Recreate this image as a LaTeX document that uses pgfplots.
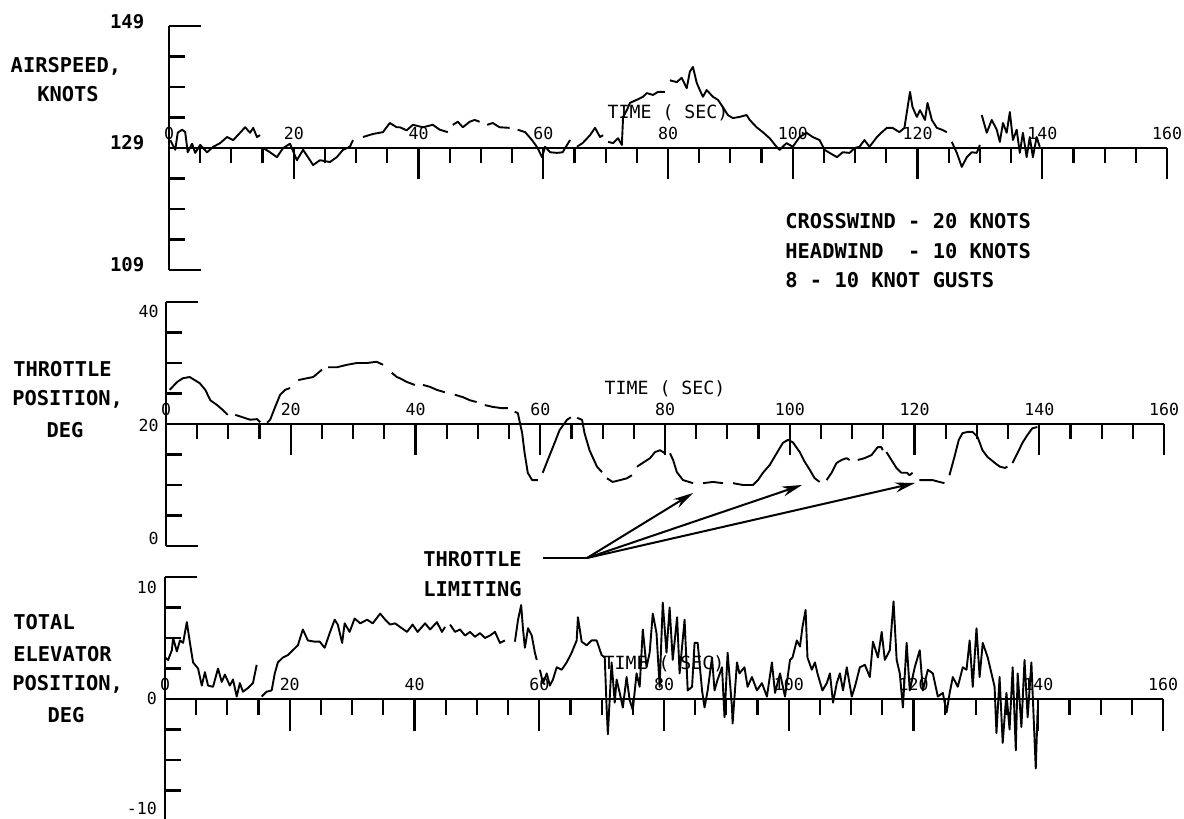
\documentclass[border=0pt]{standalone}
\usepackage{pgfplots}
\pgfplotsset{compat=1.18}
\usepackage{pgfplotstable}
\usepackage{fontspec}
\setmainfont{DejaVu Sans Mono}
\usetikzlibrary{arrows.meta}

\newcommand{\lblfont}{\fontsize{10.2}{12}\selectfont\bfseries}
\newcommand{\tickfont}{\fontsize{8.3}{10}\selectfont}
\newcommand{\timefont}{\fontsize{9.1}{11}\selectfont}

% Airspeed, knots
\pgfplotstableread{
t v
0.2 130.3
1.0 128.7
1.4 131.5
2.1 132.0
2.6 131.6
3.0 128.3
3.7 129.7
4.2 128.2
5.0 129.5
6.1 128.3
7.1 129.2
8.2 129.8
9.3 130.8
10.3 130.3
11.4 131.5
12.2 132.4
13.0 131.5
13.5 132.3
14.1 130.8
14.6 131.1
14.8 nan
15.1 129.0
16.2 128.3
17.3 127.5
18.3 129.0
19.4 129.7
20.5 127.0
21.5 128.7
22.6 127.0
23.1 126.2
24.2 127.0
25.8 126.7
26.9 127.5
27.9 128.7
29.0 129.2
29.5 130.3
30.3 nan
31.1 130.8
32.7 131.3
34.3 131.6
35.4 133.1
36.5 132.4
37.0 132.4
38.1 131.9
39.1 132.8
40.7 132.4
42.3 132.8
43.4 132.0
44.7 131.6
45.1 nan
45.5 132.8
46.3 133.3
47.1 132.4
48.2 133.3
49.0 133.6
49.8 133.3
50.4 nan
51.0 132.8
51.9 133.1
53.0 132.4
54.6 132.3
55.2 nan
55.9 132.0
57.1 131.6
58.2 130.3
59.1 129.0
59.8 127.5
60.3 129.2
61.1 128.3
62.2 128.2
63.1 128.3
64.3 130.3
64.8 nan
65.4 129.2
66.3 129.8
67.5 131.1
68.3 132.3
69.1 130.8
69.6 131.1
70.0 nan
70.4 130.0
71.2 129.8
72.0 130.6
72.6 129.5
72.8 134.1
73.4 135.2
73.9 136.4
75.0 136.9
76.0 137.4
76.6 138.0
77.6 137.7
78.4 138.2
79.5 138.2
79.9 nan
80.3 140.1
81.4 139.8
82.2 140.5
83.0 138.8
83.5 141.5
84.0 142.3
84.6 139.7
85.1 138.5
85.6 137.4
86.2 138.5
87.2 137.4
88.0 136.9
88.8 135.7
89.6 134.4
90.4 133.9
91.5 134.1
92.6 134.4
93.1 133.6
94.2 132.4
95.2 131.6
96.3 130.6
97.4 129.2
97.9 128.7
99.0 129.8
100.0 129.2
101.1 130.8
102.2 131.5
103.2 130.8
104.3 130.3
105.1 128.7
105.9 128.2
107.1 127.5
108.0 128.3
109.1 128.2
109.9 129.0
110.7 129.2
111.5 130.3
112.3 129.2
113.5 130.8
114.3 131.6
115.1 132.3
116.0 132.3
117.1 131.6
117.9 132.3
118.8 138.2
119.2 135.7
119.9 134.1
120.4 135.2
121.2 133.6
121.6 136.4
122.3 133.6
123.1 132.3
123.9 132.0
124.7 131.6
125.1 nan
125.5 130.0
126.3 128.2
127.1 125.9
127.9 127.5
128.7 128.3
129.5 128.2
130.0 129.5
130.15 nan
130.3 134.4
131.1 131.5
131.9 133.6
132.7 132.0
133.2 130.0
133.7 133.1
134.3 131.5
134.8 134.9
135.3 130.3
135.9 132.0
136.4 128.2
136.9 131.5
137.5 127.5
138.0 130.8
138.5 127.5
139.1 130.8
139.6 129.2
}\airspeed

% Throttle position, deg
\pgfplotstableread{
t d
0.6 25.6
1.8 26.9
2.7 27.5
3.8 27.7
4.6 27.2
5.4 26.7
6.3 25.6
7.1 23.9
8.2 23.1
9.1 22.3
9.9 21.5
10.5 nan
11.1 21.5
12.3 21.1
13.5 20.7
14.6 20.8
15.1 20.3
15.6 nan
16.2 20.2
16.7 20.7
17.5 22.8
18.3 24.8
19.1 25.6
19.9 25.9
20.5 nan
21.2 27.2
22.6 27.5
23.6 27.7
25.0 28.9
25.5 nan
26.0 29.3
27.4 29.3
29.0 29.7
30.6 30.0
32.2 30.0
33.8 30.2
34.8 29.7
35.5 nan
36.2 28.4
37.0 27.7
37.5 27.5
38.6 26.9
39.9 26.4
40.5 nan
41.2 26.4
42.3 26.1
43.4 25.6
44.7 25.2
45.5 nan
46.3 24.8
47.6 24.4
48.7 23.9
49.8 23.6
50.4 nan
51.1 23.1
52.4 22.8
53.8 22.6
54.8 22.6
55.3 nan
55.9 22.0
56.4 21.8
57.1 18.5
57.5 15.2
58.0 12.0
58.7 10.8
59.6 10.8
60.0 nan
60.4 12.0
61.2 14.1
62.3 16.9
63.1 19.0
64.3 20.7
64.9 21.1
65.4 nan
65.9 21.0
66.7 20.7
67.1 18.5
67.9 15.7
69.1 13.0
69.9 12.1
70.3 nan
70.7 11.1
71.6 10.5
72.8 10.8
73.9 11.1
74.7 11.6
75.1 nan
75.5 13.0
76.4 13.6
77.6 14.4
78.4 15.4
79.2 15.7
80.0 15.2
80.4 nan
80.8 15.2
81.3 14.1
81.9 12.1
82.9 10.8
84.5 10.3
85.3 nan
86.1 10.3
87.7 10.5
89.3 10.3
90.1 nan
90.9 10.3
92.5 10.0
94.1 10.0
94.9 10.8
95.7 12.0
96.8 13.3
97.9 15.2
98.9 16.9
99.7 17.4
100.5 17.0
101.6 15.4
102.4 13.8
103.2 12.5
104.0 11.1
104.8 10.5
105.3 nan
105.9 10.8
106.7 12.0
107.5 13.6
108.3 14.1
109.1 14.4
109.6 14.1
110.2 nan
110.9 14.1
112.0 14.4
113.1 14.9
114.1 16.2
114.7 16.2
114.9 15.7
115.2 nan
115.5 15.4
116.3 14.1
117.1 12.8
117.9 12.0
118.8 12.0
119.2 11.6
119.7 12.0
120.2 nan
120.8 10.8
122.0 10.8
122.9 10.8
124.0 10.5
124.8 10.3
125.2 nan
125.6 11.6
126.4 14.6
127.1 17.4
127.7 18.5
128.5 18.7
129.3 18.7
130.1 17.9
130.9 15.7
131.7 14.6
132.9 13.6
133.7 13.0
134.5 12.8
134.9 13.0
135.3 nan
135.7 13.6
136.5 15.2
137.3 16.9
138.1 18.2
138.9 19.3
139.7 19.5
}\throttle

% Total elevator position, deg
\pgfplotstableread{
t e
0.0 3.4
0.5 3.2
1.1 4.0
1.3 5.0
1.9 3.9
2.4 4.8
2.9 4.6
3.5 6.3
4.0 4.6
4.5 3.0
5.3 2.5
5.9 1.1
6.4 2.2
6.9 1.1
7.7 1.0
8.5 2.5
9.1 1.4
9.6 2.0
10.4 1.1
10.9 1.6
11.5 0.2
12.0 1.3
12.5 0.6
13.3 0.9
14.1 1.3
14.7 2.8
15.1 nan
15.5 0.2
16.3 0.6
17.1 0.7
17.6 2.1
18.1 3.0
18.9 3.4
19.7 3.6
20.5 4.0
21.3 4.4
22.1 5.7
22.9 4.8
24.0 4.7
24.8 4.7
25.6 4.2
26.4 5.4
27.2 6.5
27.7 6.1
28.4 4.6
28.8 6.2
29.6 5.5
30.4 6.6
31.3 6.2
32.4 6.5
33.3 6.2
34.5 7.0
35.3 6.5
36.1 6.1
36.9 6.2
37.7 5.9
38.8 5.5
39.7 6.1
40.5 5.5
41.7 6.2
42.5 5.7
43.6 6.3
44.4 5.5
44.9 5.9
45.3 nan
45.7 6.1
46.5 5.5
47.3 5.7
48.1 5.2
48.9 5.5
49.7 5.1
50.5 5.4
51.3 5.0
52.1 5.2
52.9 5.5
53.7 4.6
54.5 4.8
55.3 nan
56.1 4.7
56.6 6.5
57.1 7.7
57.4 5.7
57.7 4.2
58.2 5.8
58.8 5.2
59.3 3.8
59.6 3.2
59.85 nan
60.1 2.4
60.6 1.3
61.2 2.1
61.7 1.1
62.2 1.6
62.8 2.6
63.6 2.4
64.4 3.0
65.2 3.8
66.0 4.8
66.2 6.7
66.8 4.7
67.6 4.4
68.4 4.8
69.2 4.8
70.0 3.6
70.5 3.4
70.8 -0.7
71.0 -2.9
71.6 3.0
72.1 -0.3
72.4 1.6
72.9 0.5
73.4 -0.7
74.0 1.8
74.5 -0.1
75.0 -0.9
75.6 2.1
76.1 1.0
76.6 5.7
77.2 2.6
77.7 3.8
78.2 7.0
78.8 5.4
79.3 1.0
79.8 7.9
80.4 3.8
80.9 7.5
81.4 3.2
82.1 6.7
82.5 2.1
83.3 6.5
83.8 0.7
84.5 1.0
84.9 4.6
85.4 4.6
86.1 0.7
86.5 -0.7
87.0 0.7
87.7 3.4
88.1 0.7
88.6 1.6
89.3 2.6
89.7 -1.5
90.2 3.8
90.9 -0.7
91.0 -2.0
91.7 3.0
92.1 2.1
92.9 2.6
93.4 1.0
94.1 1.8
94.9 0.7
95.7 1.3
96.5 0.2
97.3 3.0
97.8 0.5
98.6 2.1
99.4 0.2
100.2 3.2
100.6 3.4
101.3 4.8
101.8 4.3
102.2 5.9
102.7 7.3
103.0 3.4
103.7 2.4
104.2 3.0
104.6 2.1
105.4 0.7
106.1 1.3
106.6 2.1
107.1 -0.3
107.7 1.3
108.2 2.1
108.7 0.7
109.3 2.6
110.1 0.2
110.6 1.0
111.4 2.6
112.2 2.8
113.0 1.8
113.5 4.7
114.3 3.4
114.9 5.5
115.4 3.2
116.2 4.0
116.8 8.0
117.3 3.2
117.8 2.1
118.3 -0.7
118.9 4.6
119.4 0.7
120.2 2.6
121.0 4.0
121.5 0.7
122.3 2.4
123.1 2.1
123.9 0.2
124.7 0.5
125.3 -1.1
125.8 0.5
126.3 1.8
127.1 1.0
127.9 2.6
128.5 2.4
129.0 4.8
129.5 1.0
130.1 5.8
130.6 1.8
131.1 4.6
131.9 3.4
132.5 2.1
133.0 1.0
133.3 -2.8
133.8 1.8
134.3 -3.6
134.9 0.5
135.4 -2.5
135.9 2.6
136.4 -4.2
136.7 2.1
137.3 -2.3
137.8 3.2
138.3 -1.5
138.9 3.0
139.1 0.5
139.6 -5.7
139.9 -0.9
}\elevator

\pgfplotsset{
  panel/.style={
    scale only axis, width=499pt, height=122pt,
    xmin=0, xmax=160,
    axis x line=middle, axis y line=left,
    axis line style={-, line width=1.2pt},
    every inner x axis line/.append style={-},
    every outer x axis line/.append style={-},
    every inner y axis line/.append style={-},
    every outer y axis line/.append style={-},
    hide obscured x ticks=false, hide obscured y ticks=false,
    xtick={0,20,...,160},
    minor xtick={5,10,...,155},
    xticklabels={0,20,40,60,80,100,120,140,160},
    major tick length=15.75pt, minor tick length=7.75pt,
    tick style={black, line width=1.1pt},
    xtick align=outside, ytick align=inside,
    xticklabel style={anchor=south, font=\tickfont, yshift=16.5pt},
    xlabel={TIME ( SEC)},
    xlabel style={at={(axis description cs:0.5,0.646)}, anchor=center, font=\timefont},
    /pgf/number format/assume math mode=true,
    unbounded coords=jump,
    clip=false,
  },
  trace/.style={black, line width=0.95pt, line join=round, no marks},
}

\begin{document}
\begin{tikzpicture}
% Panel 1: airspeed
\begin{axis}[panel,
  at={(84.5pt,274.5pt)}, anchor=south west,
  ymin=-20, ymax=20,
  ytick={-20,0,20}, minor ytick={-15,-10,-5,5,10,15},
  yticklabels={\raisebox{-1pt}[0pt][0pt]{109},\raisebox{-1pt}[0pt][0pt]{129},\raisebox{-1.5pt}[0pt][0pt]{149}},
  yticklabel style={font=\fontsize{9.5}{11}\selectfont\bfseries, xshift=-8.8pt},
]
\addplot[trace, y filter/.expression={y-129}] table[x=t, y=v] {\airspeed};
\end{axis}

% Panel 2: throttle
\begin{axis}[panel,
  at={(83pt,136.5pt)}, anchor=south west,
  ymin=-20, ymax=20,
  ytick={-20,0,20}, minor ytick={-15,-10,-5,5,10,15},
  yticklabels={\raisebox{0.5pt}[0pt][0pt]{0},\raisebox{-4pt}[0pt][0pt]{20},\raisebox{-8pt}[0pt][0pt]{40}},
  yticklabel style={font=\tickfont, xshift=-0.2pt},
]
\addplot[trace, y filter/.expression={y-20}] table[x=t, y=d] {\throttle};
\end{axis}

% Panel 3: elevator
\begin{axis}[panel,
  at={(82.5pt,-1pt)}, anchor=south west,
  ymin=-10, ymax=10,
  ytick={-10,0,10}, minor ytick={-7.5,-5,-2.5,2.5,5,7.5},
  yticklabels={\raisebox{3pt}[0pt][0pt]{-10},\raisebox{-3pt}[0pt][0pt]{0},\raisebox{-8pt}[0pt][0pt]{10}},
  yticklabel style={font=\tickfont, xshift=-0.5pt},
]
\addplot[trace] table[x=t, y=e] {\elevator};
\end{axis}

\begin{scope}[shift={(0pt,409.5pt)}, x=0.5pt, y=-0.5pt]
  \begin{scope}[font=\lblfont, inner sep=0pt]
    \node[anchor=center] at (66,66) {AIRSPEED,};
    \node[anchor=center] at (68,94) {KNOTS};
    \node[anchor=west] at (13,369) {THROTTLE};
    \node[anchor=west] at (12,399) {POSITION,};
    \node[anchor=center] at (65,430) {DEG};
    \node[anchor=west] at (13,622) {TOTAL};
    \node[anchor=west] at (13,654) {ELEVATOR};
    \node[anchor=west] at (12,684) {POSITION,};
    \node[anchor=center] at (66,715) {DEG};
    \node[anchor=west] at (785,221) {CROSSWIND - 20 KNOTS};
    \node[anchor=west] at (785,251) {HEADWIND\ \ - 10 KNOTS};
    \node[anchor=west] at (785,280) {8 - 10 KNOT GUSTS};
    \node[anchor=west] at (423,559) {THROTTLE};
    \node[anchor=west] at (423,589) {LIMITING};
  \end{scope}
  \draw[line width=1pt] (543,558) -- (587,558);
  \draw[line width=1pt, -{Stealth[length=10pt,width=5pt]}] (587,558) -- (693,493);
  \draw[line width=1pt, -{Stealth[length=10pt,width=5pt]}] (587,558) -- (802,485);
  \draw[line width=1pt, -{Stealth[length=10pt,width=5pt]}] (587,558) -- (915,483);
\end{scope}

\pgfresetboundingbox
\path[use as bounding box] (0pt,0pt) rectangle (592pt,409.5pt);
\end{tikzpicture}
\end{document}
